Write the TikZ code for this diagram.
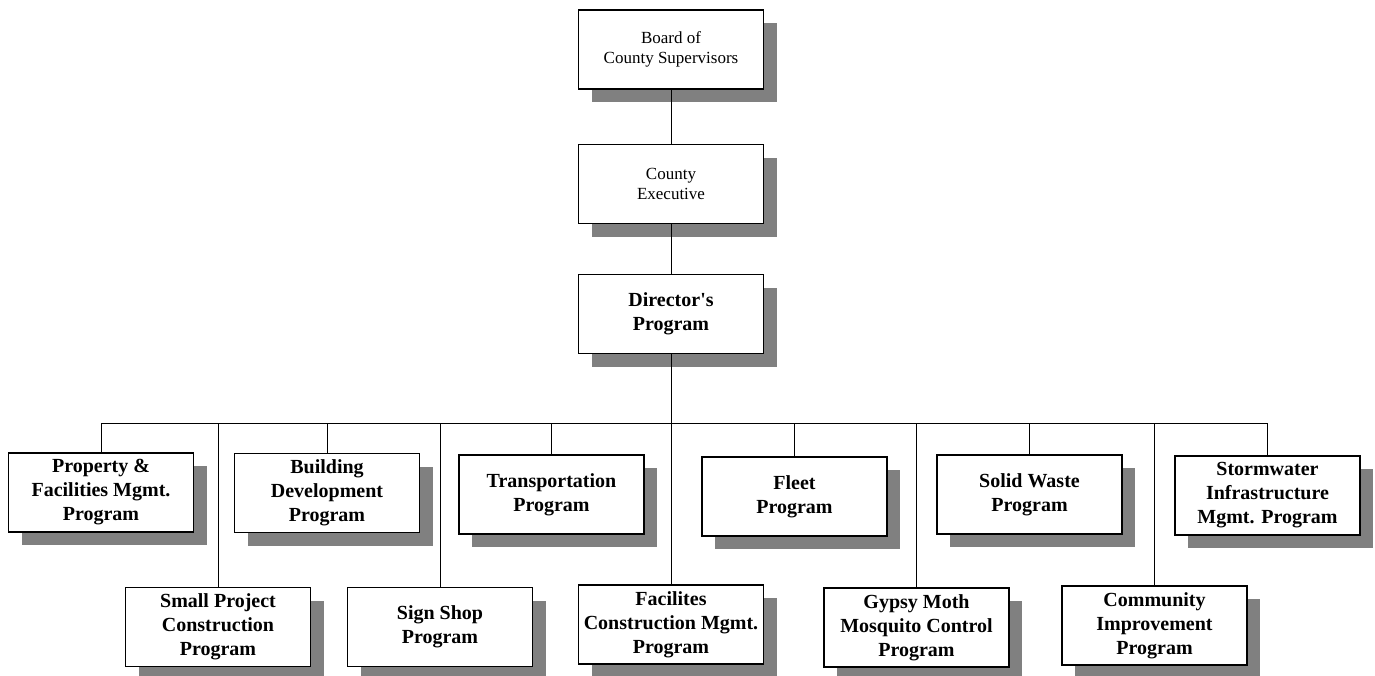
\documentclass[tikz,border=0pt]{standalone}
\usepackage{fontspec}
\setmainfont{Liberation Serif}
\usetikzlibrary{shadows}
\tikzset{
  office/.style={draw, line width=1.4pt, fill=white, align=center,
    minimum width=185pt, minimum height=79pt, inner sep=2pt,
    drop shadow={shadow xshift=13pt, shadow yshift=-13pt, fill=black!50, opacity=1}},
  headbox/.style={office, font=\fontsize{17}{20}\selectfont},
  progbox/.style={office, font=\fontsize{20}{24}\selectfont\bfseries},
  link/.style={line width=0.8pt}
}
\begin{document}
\begin{tikzpicture}[x=1pt,y=-1pt]
\useasboundingbox (0,0) rectangle (1375,675);
% top of the chart
\node[headbox] (board) at (671,49.5) {Board of\\County Supervisors};
\node[headbox] (exec) at (671,184) {County\\Executive};
\node[progbox] (dir) at (671,314) {Director\textquotesingle s\\Program};
\coordinate (bar) at (671,423);
% first row of programs
\node[progbox] (prop) at (101,492.5) {Property \&\\Facilities Mgmt.\\Program};
\node[progbox] (bldg) at (327,493) {Building\\Development\\Program};
\node[progbox] (trans) at (551.5,494.5) {Transportation\\Program};
\node[progbox] (fleet) at (794.5,496.5) {Fleet\\Program};
\node[progbox] (waste) at (1029.5,494.5) {Solid Waste\\Program};
\node[progbox] (storm) at (1267.5,495.5) {Stormwater\\Infrastructure\\Mgmt. Program};
% second row of programs
\node[progbox] (small) at (218,627) {Small Project\\Construction\\Program};
\node[progbox] (sign) at (440,627) {Sign Shop\\Program};
\node[progbox] (fac) at (671,624.5) {Facilites\\Construction Mgmt.\\Program};
\node[progbox] (moth) at (916.5,627.5) {Gypsy Moth\\Mosquito Control\\Program};
\node[progbox] (comm) at (1154.5,625.5) {Community\\Improvement\\Program};
% connectors
\draw[link] (board) -- (exec);
\draw[link] (exec) -- (dir);
\draw[link] (dir) -- (fac);
\draw[link] (prop.north |- bar) -- (storm.north |- bar);
\draw[link] (prop.north |- bar) -- (prop.north);
\draw[link] (bldg.north |- bar) -- (bldg.north);
\draw[link] (trans.north |- bar) -- (trans.north);
\draw[link] (fleet.north |- bar) -- (fleet.north);
\draw[link] (waste.north |- bar) -- (waste.north);
\draw[link] (storm.north |- bar) -- (storm.north);
\draw[link] (small.north |- bar) -- (small.north);
\draw[link] (sign.north |- bar) -- (sign.north);
\draw[link] (moth.north |- bar) -- (moth.north);
\draw[link] (comm.north |- bar) -- (comm.north);
\end{tikzpicture}
\end{document}
